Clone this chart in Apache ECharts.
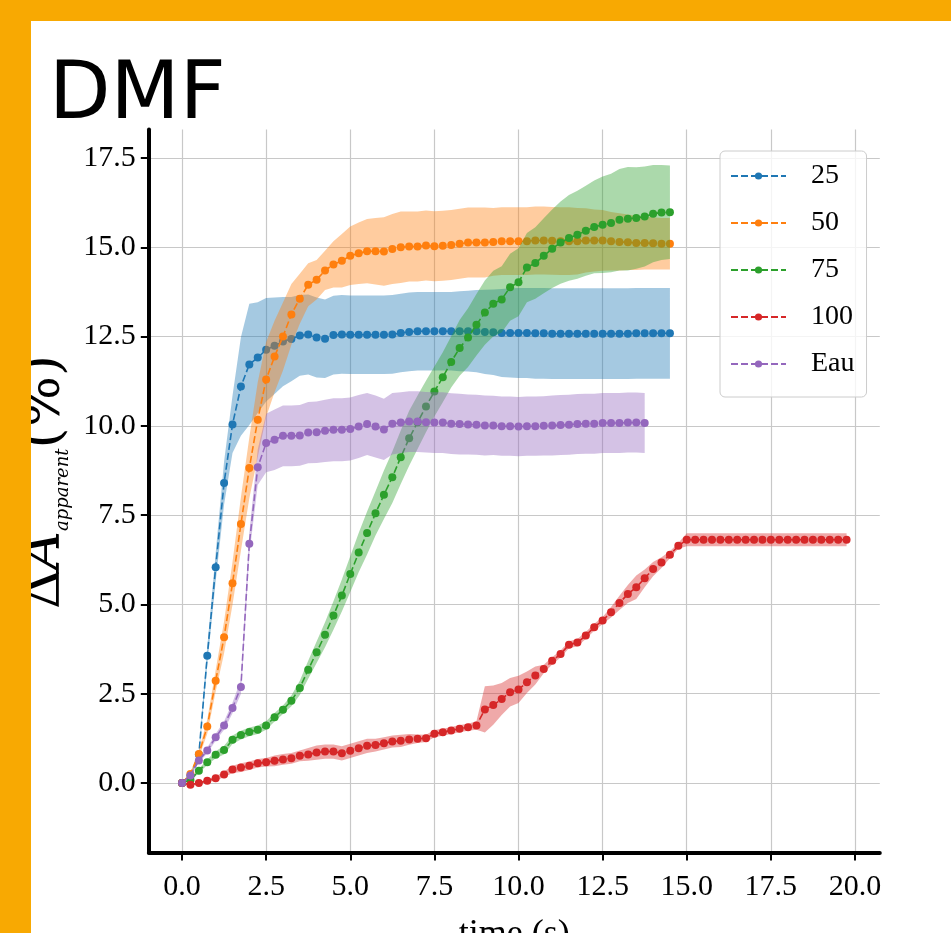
<!DOCTYPE html>
<html><head><meta charset="utf-8">
<script src="https://cdn.jsdelivr.net/npm/echarts@6/dist/echarts.min.js"></script>
<style>html,body{margin:0;padding:0;background:#fff;overflow:hidden}#chart{width:951px;height:933px}</style>
</head><body><div id="chart"></div>
<script>
// ---- data ----
const times = [0,0.25,0.5,0.75,1,1.25,1.5,1.75,2,2.25,2.5,2.75,3,3.25,3.5,3.75,4,4.25,4.5,4.75,
  5,5.25,5.5,5.75,6,6.25,6.5,6.75,7,7.25,7.5,7.75,8,8.25,8.5,8.75,9,9.25,9.5,9.75,
  10,10.25,10.5,10.75,11,11.25,11.5,11.75,12,12.25,12.5,12.75,13,13.25,13.5,13.75,14,14.25,14.5,14.75,
  15,15.25,15.5,15.75,16,16.25,16.5,16.75,17,17.25,17.5,17.75,18,18.25,18.5,18.75,19,19.25,19.5,19.75];
const xTicks = [0,2.5,5,7.5,10,12.5,15,17.5,20];
const yTicks = [0,2.5,5,7.5,10,12.5,15,17.5];
const seriesNames = ['25','50','75','100','Eau'];
const colors = ['#1f77b4','#ff7f0e','#2ca02c','#d62728','#9467bd'];

const mean25 = [0,0.2,0.8,3.56,6.04,8.4,10.04,11.1,11.72,11.91,
  12.13,12.24,12.36,12.43,12.53,12.56,12.47,12.44,12.54,12.56,
  12.55,12.55,12.55,12.55,12.55,12.56,12.6,12.63,12.65,12.65,
  12.65,12.65,12.65,12.65,12.65,12.65,12.63,12.62,12.6,12.6,
  12.6,12.6,12.59,12.59,12.58,12.58,12.58,12.58,12.58,12.58,
  12.58,12.58,12.58,12.58,12.59,12.59,12.59,12.59,12.59];
const std25 = [0,0.05,0.1,0.25,0.4,0.6,0.8,1.38,1.7,1.55,
  1.45,1.35,1.25,1.18,1.13,1.12,1.12,1.1,1.1,1.1,
  1.1,1.1,1.1,1.1,1.1,1.1,1.1,1.1,1.1,1.1,
  1.1,1.1,1.1,1.12,1.13,1.15,1.18,1.2,1.23,1.25,
  1.26,1.26,1.27,1.27,1.27,1.27,1.27,1.27,1.27,1.27,
  1.27,1.27,1.27,1.27,1.27,1.27,1.27,1.27,1.27];

const mean50 = [0,0.25,0.81,1.58,2.86,4.08,5.59,7.25,8.82,10.17,
  11.3,11.94,12.5,13.12,13.56,13.95,14.09,14.35,14.52,14.62,
  14.76,14.83,14.89,14.89,14.88,14.95,15.0,15.02,15.02,15.05,
  15.03,15.04,15.06,15.1,15.13,15.13,15.13,15.15,15.17,15.17,
  15.17,15.17,15.19,15.19,15.18,15.17,15.17,15.17,15.19,15.19,
  15.19,15.17,15.15,15.14,15.12,15.12,15.11,15.1,15.1];
const std50 = [0,0.05,0.1,0.2,0.3,0.45,0.6,0.75,0.85,1.05,
  1.05,1.0,0.95,0.85,0.7,0.6,0.55,0.55,0.65,0.75,
  0.82,0.86,0.9,0.93,0.96,0.98,1.0,0.98,0.98,0.98,
  0.98,0.98,0.98,0.98,0.98,0.98,0.98,0.95,0.95,0.95,
  0.95,0.95,0.95,0.95,0.95,0.95,0.95,0.93,0.9,0.87,
  0.85,0.82,0.8,0.78,0.76,0.74,0.73,0.72,0.72];

const mean75 = [0,0.08,0.34,0.58,0.79,0.92,1.21,1.34,1.43,1.49,
  1.61,1.84,2.05,2.3,2.66,3.17,3.66,4.15,4.69,5.25,
  5.85,6.45,7.0,7.55,8.07,8.56,9.12,9.65,10.1,10.54,
  10.96,11.36,11.79,12.18,12.47,12.83,13.17,13.42,13.54,13.88,
  14.02,14.43,14.56,14.76,14.96,15.13,15.26,15.35,15.46,15.57,
  15.63,15.68,15.77,15.8,15.82,15.86,15.94,15.97,15.98];
const std75 = [0,0.03,0.06,0.08,0.1,0.12,0.12,0.12,0.12,0.12,
  0.12,0.12,0.12,0.15,0.2,0.25,0.3,0.35,0.4,0.45,
  0.5,0.55,0.6,0.62,0.68,0.72,0.75,0.77,0.75,0.72,
  0.7,0.7,0.72,0.78,0.82,0.86,0.9,0.92,0.93,0.94,
  0.95,0.97,1.0,1.05,1.1,1.15,1.2,1.23,1.26,1.3,
  1.35,1.38,1.42,1.45,1.42,1.4,1.36,1.33,1.31];

const mean100 = [0,-0.05,0.0,0.06,0.13,0.24,0.38,0.43,0.48,0.55,
  0.58,0.62,0.66,0.69,0.76,0.8,0.85,0.88,0.88,0.83,
  0.9,0.97,1.04,1.06,1.11,1.16,1.18,1.22,1.24,1.25,
  1.38,1.42,1.47,1.52,1.56,1.61,2.06,2.18,2.35,2.54,
  2.62,2.82,3.01,3.19,3.42,3.61,3.87,3.93,4.13,4.36,
  4.55,4.78,5.04,5.29,5.48,5.73,5.99,6.17,6.39,6.64,
  6.81,6.81,6.81,6.81,6.81,6.81,6.81,6.81,6.81,6.81,
  6.81,6.81,6.81,6.81,6.81,6.81,6.81,6.81,6.81,6.81];
const std100 = [0,0.02,0.03,0.04,0.06,0.08,0.1,0.12,0.12,0.12,
  0.12,0.15,0.15,0.15,0.15,0.18,0.2,0.2,0.2,0.2,
  0.2,0.2,0.2,0.18,0.17,0.17,0.17,0.15,0.12,0.1,
  0.1,0.1,0.1,0.1,0.1,0.12,0.65,0.55,0.45,0.4,
  0.38,0.3,0.25,0.12,0.1,0.1,0.1,0.1,0.1,0.1,
  0.1,0.15,0.2,0.25,0.33,0.25,0.2,0.15,0.1,0.08,
  0.18,0.18,0.18,0.18,0.18,0.18,0.18,0.18,0.18,0.18,
  0.18,0.18,0.18,0.18,0.18,0.18,0.18,0.18,0.18,0.18];

const meanEau = [0,0.21,0.63,0.91,1.28,1.61,2.1,2.69,6.7,8.84,
  9.52,9.61,9.72,9.72,9.73,9.81,9.82,9.86,9.89,9.89,
  9.91,9.98,10.05,9.98,9.9,10.06,10.09,10.12,10.12,10.1,
  10.09,10.09,10.06,10.05,10.04,10.03,10.01,10.01,9.99,9.99,
  9.98,9.99,9.99,10.0,10.01,10.02,10.03,10.05,10.06,10.06,
  10.08,10.08,10.08,10.09,10.09,10.08];
const stdEau = [0,0.04,0.06,0.08,0.1,0.12,0.15,0.2,0.3,0.5,
  0.82,0.85,0.85,0.85,0.85,0.86,0.86,0.87,0.88,0.88,
  0.88,0.88,0.87,0.87,0.86,0.86,0.85,0.85,0.85,0.85,
  0.85,0.85,0.85,0.85,0.84,0.84,0.84,0.83,0.83,0.83,
  0.83,0.83,0.83,0.83,0.84,0.84,0.84,0.84,0.84,0.84,
  0.84,0.84,0.84,0.84,0.84,0.84];

const means = [mean25, mean50, mean75, mean100, meanEau];
const stds = [std25, std50, std75, std100, stdEau];

// ---- chart ----
const chart = echarts.init(document.getElementById('chart'), null, {renderer:'canvas'});
const tickFont = 'Liberation Serif';

function bandSeries(k) {
  const m = means[k], s = stds[k], t = times.slice(0, m.length);
  return {
    type: 'custom', name: seriesNames[k] + ' band', coordinateSystem: 'cartesian2d',
    silent: true, z: 2 * k + 1, animation: false,
    data: [[t[0], m[0]]], encode: {x: 0, y: 1},
    renderItem: function (params, api) {
      const up = [], lo = [];
      for (let i = 0; i < m.length; i++) {
        up.push(api.coord([t[i], m[i] + s[i]]));
        lo.push(api.coord([t[i], m[i] - s[i]]));
      }
      return {type: 'polygon', shape: {points: up.concat(lo.reverse())},
        style: {fill: colors[k], opacity: 0.4, stroke: null}};
    }
  };
}
function lineSeries(k) {
  const m = means[k];
  return {
    type: 'line', name: seriesNames[k], z: 2 * k + 2,
    data: m.map((v, i) => [times[i], v]),
    symbol: 'circle', symbolSize: 8, showAllSymbol: true,
    lineStyle: {color: colors[k], width: 1.6, type: [7, 3]},
    itemStyle: {color: colors[k], borderWidth: 0},
    emphasis: {disabled: true}, animation: false
  };
}
const series = [];
for (let k = 0; k < 5; k++) { series.push(bandSeries(k)); series.push(lineSeries(k)); }

chart.setOption({
  animation: false,
  backgroundColor: '#ffffff',
  title: {text: 'DMF', left: 44, top: 52,
    textStyle: {fontFamily: 'DejaVu Sans', fontSize: 80, fontWeight: 'normal', color: '#000'}},
  graphic: [
    {type: 'rect', shape: {x: 0, y: 0, width: 951, height: 21}, style: {fill: '#f8a902'}, z: 100, silent: true},
    {type: 'rect', shape: {x: 0, y: 0, width: 31, height: 933}, style: {fill: '#f8a902'}, z: 100, silent: true}
  ],
  grid: {left: 148.8, right: 71.2, top: 129.4, bottom: 80.4, containLabel: false, outerBoundsMode: 'none'},
  xAxis: {
    type: 'value', min: -0.9875, max: 20.7375,
    name: 'time (s)', nameLocation: 'middle', nameGap: 64,
    nameTextStyle: {fontFamily: tickFont, fontSize: 36, color: '#000'},
    axisLine: {show: true, onZero: false, lineStyle: {color: '#000', width: 4}},
    axisTick: {show: true, length: 8, lineStyle: {color: '#000', width: 2}, customValues: xTicks},
    axisLabel: {customValues: xTicks, formatter: v => v.toFixed(1), margin: 20,
      fontFamily: tickFont, fontSize: 30, color: '#000'},
    splitLine: {show: true, lineStyle: {color: '#c8c8c8', width: 1.2}}
  },
  yAxis: {
    type: 'value', min: -1.95, max: 18.3,
    name: '{d|Δ}{a|A}{s|apparent}{d|(%)}', nameLocation: 'middle', nameGap: 66,
    nameTextStyle: {padding: [0, 0, 0, 18], rich: {
      d: {fontFamily: 'DejaVu Serif', fontSize: 54, color: '#000'},
      a: {fontFamily: 'DejaVu Serif', fontStyle: 'italic', fontSize: 54, color: '#000'},
      s: {fontFamily: 'DejaVu Serif', fontStyle: 'italic', fontSize: 18, color: '#000', verticalAlign: 'bottom'}
    }},
    axisLine: {show: true, onZero: false, lineStyle: {color: '#000', width: 4}},
    axisTick: {show: true, length: 8, lineStyle: {color: '#000', width: 2}, customValues: yTicks},
    axisLabel: {customValues: yTicks, formatter: v => v.toFixed(1), margin: 13,
      fontFamily: tickFont, fontSize: 30, color: '#000'},
    splitLine: {show: true, lineStyle: {color: '#c8c8c8', width: 1.2}}
  },
  legend: {
    orient: 'vertical', left: 720, top: 151, padding: [11, 12, 19, 10],
    itemGap: 19, itemWidth: 55, itemHeight: 9, selectedMode: false,
    textStyle: {fontFamily: tickFont, fontSize: 28, lineHeight: 28, color: '#000', padding: [0, 0, 0, 20]},
    backgroundColor: 'rgba(255,255,255,0.8)', borderColor: '#cccccc', borderWidth: 1, borderRadius: 5,
    data: seriesNames, z: 50
  },
  series: series
});
</script></body></html>
